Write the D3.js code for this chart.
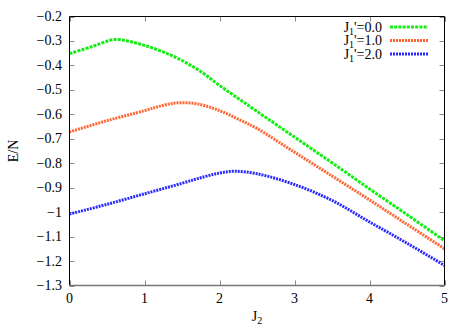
<!DOCTYPE html>
<html><head><meta charset="utf-8">
<script src="https://cdn.jsdelivr.net/npm/d3@7"></script>
<style>
html,body{margin:0;padding:0;background:#fff;}
svg{display:block;}
text{font-family:"Liberation Serif","DejaVu Serif",serif;}
</style></head>
<body>
<svg id="c" width="467" height="327"></svg>
<script>
const xTicks = [0,1,2,3,4,5];
const yTicks = [-0.2,-0.3,-0.4,-0.5,-0.6,-0.7,-0.8,-0.9,-1,-1.1,-1.2,-1.3];
const yTickLabels = ["\u22120.2","\u22120.3","\u22120.4","\u22120.5","\u22120.6","\u22120.7","\u22120.8","\u22120.9","\u22121","\u22121.1","\u22121.2","\u22121.3"];

const j2 = [0, 0.3, 0.6, 0.8, 1, 1.25, 1.5, 1.75, 2, 2.25, 2.5, 3, 3.5, 4, 4.5, 5];
const green = [-0.352, -0.323, -0.294, -0.302, -0.318, -0.345, -0.38, -0.425, -0.482, -0.535, -0.588, -0.693, -0.798, -0.905, -1.01, -1.117];

const j2b = [0, 0.5, 1, 1.25, 1.45, 1.7, 2, 2.25, 2.5, 3, 3.5, 4, 4.5, 5];
const orange = [-0.672, -0.626, -0.585, -0.563, -0.553, -0.557, -0.585, -0.62, -0.658, -0.755, -0.852, -0.95, -1.05, -1.15];

const j2c = [0, 0.5, 1, 1.5, 1.8, 2, 2.2, 2.5, 3, 3.5, 4, 4.5, 5];
const blue = [-1.008, -0.968, -0.925, -0.882, -0.855, -0.84, -0.833, -0.843, -0.887, -0.952, -1.04, -1.127, -1.218];

const seriesNames = ["0.0","1.0","2.0"];
const colors = ["#11ee11","#ff6633","#2a2aff"];

const svg = d3.select("#c");
const L = 69.5, R = 444.5, T = 16.5, B = 285.5;
const x = d3.scaleLinear().domain([0,5]).range([L,R]);
const y = d3.scaleLinear().domain([-1.3,-0.2]).range([B,T]);

const series = [
  {xs:j2, ys:green, dash:"3,1.2"},
  {xs:j2b, ys:orange, dash:"2,1"},
  {xs:j2c, ys:blue, dash:"2,1"}
];

const line = d3.line().x(d=>x(d[0])).y(d=>y(d[1])).curve(d3.curveCatmullRom.alpha(0.5));

// ticks
const tickG = svg.append("g").attr("stroke","#888").attr("stroke-width",1);
yTicks.forEach(v=>{
  tickG.append("line").attr("x1",L).attr("x2",L+5).attr("y1",Math.round(y(v))+0.5).attr("y2",Math.round(y(v))+0.5);
  tickG.append("line").attr("x1",R-5).attr("x2",R).attr("y1",Math.round(y(v))+0.5).attr("y2",Math.round(y(v))+0.5);
});
xTicks.forEach(v=>{
  tickG.append("line").attr("x1",Math.round(x(v))+0.5).attr("x2",Math.round(x(v))+0.5).attr("y1",B).attr("y2",B-5);
  tickG.append("line").attr("x1",Math.round(x(v))+0.5).attr("x2",Math.round(x(v))+0.5).attr("y1",T).attr("y2",T+5);
});

// series
series.forEach((s,i)=>{
  svg.append("path")
    .datum(s.xs.map((v,k)=>[v,s.ys[k]]))
    .attr("d",line)
    .attr("fill","none")
    .attr("stroke",colors[i])
    .attr("stroke-width",3)
    .attr("stroke-dasharray",s.dash);
});

// border
svg.append("line").attr("x1",L).attr("x2",R).attr("y1",T).attr("y2",T).attr("stroke","#000");
svg.append("line").attr("x1",L).attr("x2",L).attr("y1",T).attr("y2",B).attr("stroke","#000");
svg.append("line").attr("x1",R).attr("x2",R).attr("y1",T).attr("y2",B).attr("stroke","#000");
svg.append("line").attr("x1",L).attr("x2",R).attr("y1",B).attr("y2",B).attr("stroke","#777").attr("stroke-width",1.5);

// tick labels
const fs = 14;
const ff = "Liberation Serif, DejaVu Serif, serif";
yTicks.forEach((v,i)=>{
  svg.append("text").attr("x",62).attr("y",y(v)+4.5).attr("text-anchor","end")
    .attr("font-family",ff).attr("font-size",fs).attr("fill","#000").text(yTickLabels[i]);
});
xTicks.forEach(v=>{
  svg.append("text").attr("x",x(v)).attr("y",303).attr("text-anchor","middle")
    .attr("font-family",ff).attr("font-size",fs).attr("fill","#000").text(v);
});

// axis titles
svg.append("text").attr("transform","translate(18,151) rotate(-90)").attr("text-anchor","middle")
  .attr("font-family",ff).attr("font-size",fs).text("E/N");
const xt = svg.append("text").attr("x",257).attr("y",321).attr("text-anchor","middle")
  .attr("font-family",ff).attr("font-size",fs);
xt.append("tspan").text("J");
xt.append("tspan").attr("dy",3).attr("font-size",10).text("2");

// legend
const legY = [27, 40.5, 54];
seriesNames.forEach((n,i)=>{
  const t = svg.append("text").attr("x",382).attr("y",legY[i]+4.5).attr("text-anchor","end")
    .attr("font-family",ff).attr("font-size",fs);
  t.append("tspan").text("J");
  t.append("tspan").attr("dy",3).attr("font-size",10).text("1");
  t.append("tspan").attr("dy",-3).text("'=" + n);
  svg.append("line").attr("x1",390).attr("x2",428).attr("y1",legY[i]).attr("y2",legY[i])
    .attr("stroke",colors[i]).attr("stroke-width",3).attr("stroke-dasharray",series[i].dash);
});
</script>
</body></html>
